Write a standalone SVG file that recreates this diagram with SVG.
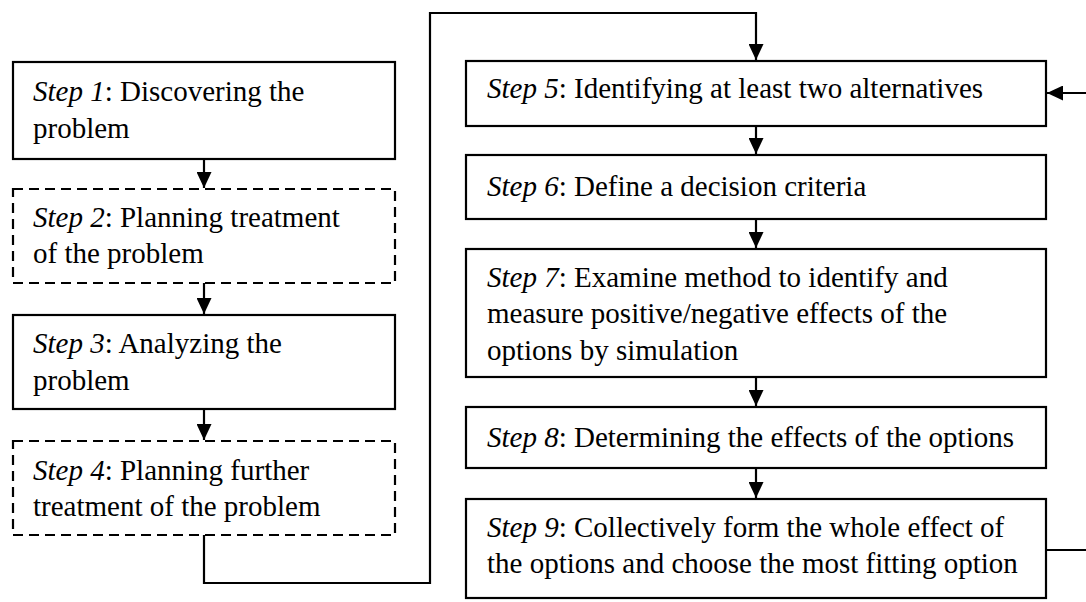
<svg xmlns="http://www.w3.org/2000/svg" width="1086" height="602" viewBox="0 0 1086 602">
<style>
.box{fill:#fff;stroke:#000;stroke-width:2.2}
.dash{stroke-dasharray:10 6}
.t{font-family:"Liberation Serif","Times New Roman",serif;font-size:29px;fill:#000}
.i{font-style:italic}
.c{fill:none;stroke:#000;stroke-width:2.2}
</style>
<defs>
<marker id="ah" markerUnits="userSpaceOnUse" markerWidth="16" markerHeight="15" viewBox="0 0 16 15" refX="16" refY="7.5" orient="auto">
<path d="M0,0 L16,7.5 L0,15 z" fill="#000"/>
</marker>
</defs>
<rect width="1086" height="602" fill="#fff"/>
<g id="connectors">
<path class="c" d="M204,159 V188" marker-end="url(#ah)"/>
<path class="c" d="M204,283 V314" marker-end="url(#ah)"/>
<path class="c" d="M204,409 V440" marker-end="url(#ah)"/>
<path class="c" d="M204,535 V583 H430 V13 H756 V60" marker-end="url(#ah)"/>
<path class="c" d="M756,126 V154" marker-end="url(#ah)"/>
<path class="c" d="M756,219 V248" marker-end="url(#ah)"/>
<path class="c" d="M756,377 V406" marker-end="url(#ah)"/>
<path class="c" d="M756,468 V498" marker-end="url(#ah)"/>
<path class="c" d="M1046,550 H1092 V93 H1047" marker-end="url(#ah)"/>
</g>
<g id="step1">
<rect class="box" x="13" y="62" width="382" height="97"/>
<text class="t" x="33" y="101"><tspan class="i">Step 1</tspan>: Discovering the</text>
<text class="t" x="33" y="138">problem</text>
</g>
<g id="step2">
<rect class="box dash" x="13" y="189" width="382" height="94"/>
<text class="t" x="33" y="227"><tspan class="i">Step 2</tspan>: Planning treatment</text>
<text class="t" x="33" y="263">of the problem</text>
</g>
<g id="step3">
<rect class="box" x="13" y="315" width="382" height="94"/>
<text class="t" x="33" y="353"><tspan class="i">Step 3</tspan>: Analyzing the</text>
<text class="t" x="33" y="390">problem</text>
</g>
<g id="step4">
<rect class="box dash" x="13" y="441" width="382" height="94"/>
<text class="t" x="33" y="480"><tspan class="i">Step 4</tspan>: Planning further</text>
<text class="t" x="33" y="516">treatment of the problem</text>
</g>
<g id="step5">
<rect class="box" x="466" y="61" width="580" height="65"/>
<text class="t" x="487" y="98"><tspan class="i">Step 5</tspan>: Identifying at least two alternatives</text>
</g>
<g id="step6">
<rect class="box" x="466" y="155" width="580" height="64"/>
<text class="t" x="487" y="196"><tspan class="i">Step 6</tspan>: Define a decision criteria</text>
</g>
<g id="step7">
<rect class="box" x="466" y="249" width="580" height="128"/>
<text class="t" x="487" y="287"><tspan class="i">Step 7</tspan>: Examine method to identify and</text>
<text class="t" x="487" y="323">measure positive/negative effects of the</text>
<text class="t" x="487" y="360">options by simulation</text>
</g>
<g id="step8">
<rect class="box" x="466" y="407" width="580" height="61"/>
<text class="t" x="487" y="447"><tspan class="i">Step 8</tspan>: Determining the effects of the options</text>
</g>
<g id="step9">
<rect class="box" x="466" y="499" width="580" height="99"/>
<text class="t" x="487" y="537"><tspan class="i">Step 9</tspan>: Collectively form the whole effect of</text>
<text class="t" x="487" y="573">the options and choose the most fitting option</text>
</g>
</svg>
